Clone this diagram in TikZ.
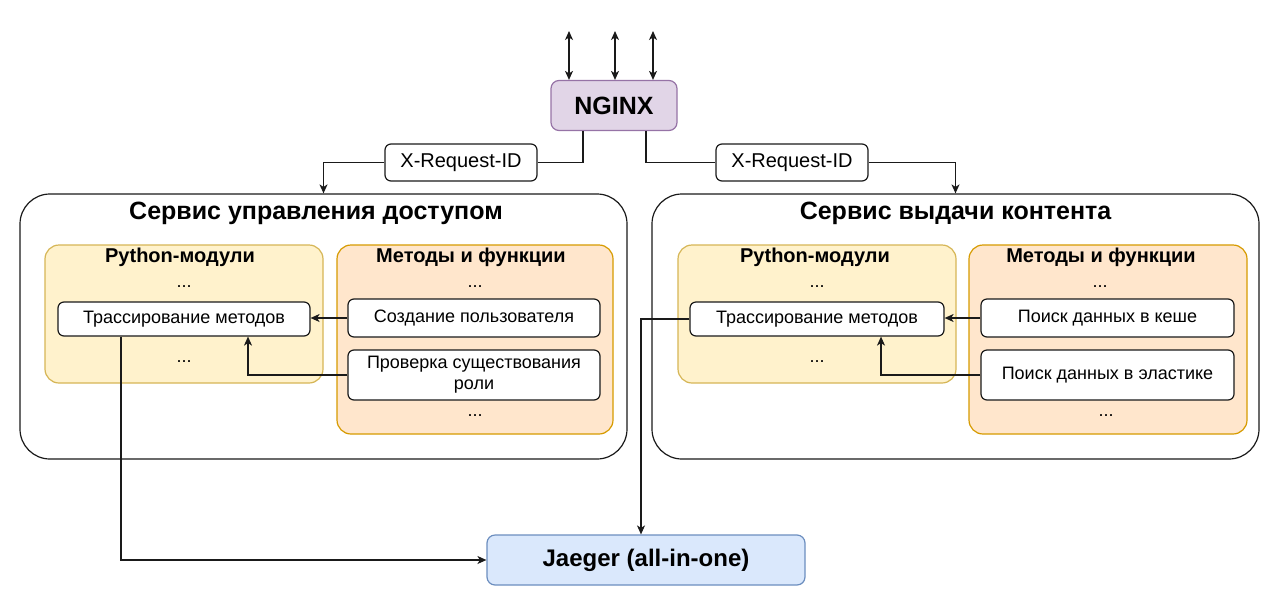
\documentclass[tikz,border=0pt]{standalone}
\usepackage{fontspec}
\setmainfont{Liberation Sans}
\usetikzlibrary{arrows.meta}
\definecolor{purfill}{HTML}{E1D5E7}\definecolor{purline}{HTML}{9673A6}
\definecolor{yelfill}{HTML}{FFF2CC}\definecolor{yelline}{HTML}{D6B656}
\definecolor{orafill}{HTML}{FFE6CC}\definecolor{oraline}{HTML}{D79B00}
\definecolor{blufill}{HTML}{DAE8FC}\definecolor{bluline}{HTML}{6C8EBF}
\definecolor{edge}{HTML}{1A1A1A}
\tikzset{
  box/.style={draw=edge, line width=1.2pt, inner sep=0pt, align=center},
  svc/.style={box, rounded corners=30pt, fill=white},
  py/.style={box, draw=yelline, fill=yelfill, rounded corners=14pt},
  mf/.style={box, draw=oraline, fill=orafill, rounded corners=14pt},
  item/.style={box, fill=white, rounded corners=6pt, font=\fontsize{18}{21}\selectfont},
  tag/.style={box, fill=white, rounded corners=6pt, minimum width=152pt, minimum height=37pt, font=\fontsize{20}{23}\selectfont},
  big/.style={font=\fontsize{25}{29}\selectfont\bfseries},
  jg/.style={font=\fontsize{24}{28}\selectfont\bfseries},
  mid/.style={font=\fontsize{20}{23}\selectfont\bfseries},
  dots/.style={font=\fontsize{18}{21}\selectfont, inner sep=0pt},
  tip/.style={Stealth[length=9pt,width=8pt,inset=2.5pt]},
  conn/.style={draw=edge, line width=1.3pt, -{Stealth[length=9pt,width=8pt,inset=2.5pt]}},
  conn2/.style={draw=edge, line width=1.3pt, {Stealth[length=9pt,width=8pt,inset=2.5pt]}-{Stealth[length=9pt,width=8pt,inset=2.5pt]}},
  line/.style={draw=edge, line width=1.3pt}
}
\begin{document}
\begin{tikzpicture}[x=1pt,y=-1pt]
\useasboundingbox (0,0) rectangle (1280,606);
% NGINX
\node[box, draw=purline, fill=purfill, rounded corners=8pt, minimum width=126pt, minimum height=50pt, big] (nginx) at (614,105.5) {NGINX};
\coordinate (in1) at (569,31);
\coordinate (in2) at (615,31);
\coordinate (in3) at (653,31);
\draw[conn2] (in1) -- ([xshift=-45pt]nginx.north);
\draw[conn2] (in2) -- ([xshift=1pt]nginx.north);
\draw[conn2] (in3) -- ([xshift=39pt]nginx.north);
% services
\node[svc, minimum width=607pt, minimum height=265pt] (svcL) at (323.5,326.5) {};
\node[svc, minimum width=607pt, minimum height=265pt] (svcR) at (955.5,326.5) {};
\node[big] (tL) at (316,213) {Сервис управления доступом};
\node[big] (tR) at (955.5,213) {Сервис выдачи контента};
% tags
\node[tag] (xl) at (461,162.5) {X-Request-ID};
\node[tag] (xr) at (792,162.5) {X-Request-ID};
\draw[line] ([xshift=-31pt]nginx.south) |- (xl.east);
\draw[conn] (xl.west) -| (svcL.north);
\draw[line] ([xshift=32pt]nginx.south) |- (xr.west);
\draw[conn] (xr.east) -| (svcR.north);
% left inner
\node[py, minimum width=278pt, minimum height=138pt] (pyL) at (184,314) {};
\node[mf, minimum width=276pt, minimum height=189pt] (mfL) at (475,339.5) {};
\node[mid] (pyLt) at (180,257) {Python-модули};
\node[mid] (mfLt) at (471,257) {Методы и функции};
\node[dots] (pyLd1) at (184,287) {...};
\node[dots] (pyLd2) at (184,362) {...};
\node[dots] (mfLd1) at (475,287) {...};
\node[dots] (mfLd2) at (475,416) {...};
\node[item, minimum width=252pt, minimum height=34pt] (trL) at (184,319) {Трассирование методов};
\node[item, minimum width=252pt, minimum height=38pt] (crL) at (474,318) {Создание пользователя};
\node[item, minimum width=252pt, minimum height=50pt] (prL) at (474,375) {Проверка существования\\роли};
\draw[conn] (crL.west) -- (crL.west -| trL.east);
\draw[conn] (prL.west) -| ([xshift=64pt]trL.south);
% right inner
\node[py, minimum width=278pt, minimum height=138pt] (pyR) at (817,314) {};
\node[mf, minimum width=278pt, minimum height=189pt] (mfR) at (1108,339.5) {};
\node[mid] (pyRt) at (815,257) {Python-модули};
\node[mid] (mfRt) at (1101,257) {Методы и функции};
\node[dots] (pyRd1) at (817,287) {...};
\node[dots] (pyRd2) at (817,362) {...};
\node[dots] (mfRd1) at (1100,287) {...};
\node[dots] (mfRd2) at (1106,416) {...};
\node[item, minimum width=254pt, minimum height=34pt] (trR) at (817,319) {Трассирование методов};
\node[item, minimum width=253pt, minimum height=38pt] (keR) at (1107.5,318) {Поиск данных в кеше};
\node[item, minimum width=253pt, minimum height=50pt] (elR) at (1107.5,375) {Поиск данных в эластике};
\draw[conn] (keR.west) -- (keR.west -| trR.east);
\draw[conn] (elR.west) -| ([xshift=64pt]trR.south);
% Jaeger
\node[box, draw=bluline, fill=blufill, rounded corners=8pt, minimum width=318pt, minimum height=50pt, jg] (jaeger) at (646,560) {Jaeger (all-in-one)};
\draw[conn] ([xshift=-63pt]trL.south) |- (jaeger.west);
\draw[conn] (trR.west) -| ([xshift=-5pt]jaeger.north);
\end{tikzpicture}
\end{document}
